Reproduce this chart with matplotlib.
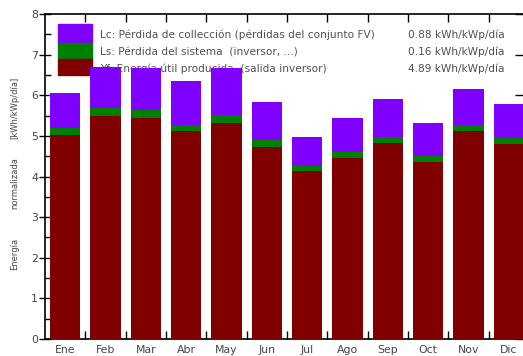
import matplotlib
matplotlib.use("Agg")
import matplotlib.pyplot as plt
from matplotlib.patches import Rectangle
import numpy as np

months = ["Ene", "Feb", "Mar", "Abr", "May", "Jun", "Jul", "Ago", "Sep", "Oct", "Nov", "Dic"]
yf = [5.02, 5.49, 5.44, 5.12, 5.31, 4.72, 4.13, 4.45, 4.82, 4.36, 5.12, 4.80]
ls = [0.17, 0.19, 0.20, 0.15, 0.20, 0.18, 0.13, 0.15, 0.15, 0.14, 0.15, 0.14]
lc = [0.86, 1.01, 1.03, 1.08, 1.16, 0.93, 0.71, 0.84, 0.94, 0.81, 0.88, 0.84]
legend_labels = ["Lc: Pérdida de collección (pérdidas del conjunto FV)",
                 "Ls: Pérdida del sistema  (inversor, ...)",
                 "Yf: Energía útil producida  (salida inversor)"]
legend_values = ["0.88 kWh/kWp/día", "0.16 kWh/kWp/día", "4.89 kWh/kWp/día"]

c_lc = "#8000FF"
c_ls = "#008000"
c_yf = "#800000"

plt.rcParams['font.family'] = ['DejaVu Sans']
fig = plt.figure(figsize=(5.23, 3.56), dpi=100)
ax = fig.add_axes([45/523, 17/356, 484/523, 325/356])

x = np.arange(len(months)) + 0.5
yf_a = np.array(yf); ls_a = np.array(ls); lc_a = np.array(lc)
w = 0.75
ax.bar(x, yf_a, w, color=c_yf, zorder=3)
ax.bar(x, ls_a, w, bottom=yf_a, color=c_ls, zorder=3)
ax.bar(x, lc_a, w, bottom=yf_a + ls_a, color=c_lc, zorder=3)

ax.set_xlim(0, 12)
ax.set_ylim(0, 8)
ax.set_xticks(x)
ax.set_xticklabels(months, fontsize=7.8, color="#444444")
ax.set_xticks(np.arange(1, 12), minor=True)
ax.tick_params(axis='x', which='major', length=0, pad=4)
ax.tick_params(axis='x', which='minor', direction='in', length=6, top=True, bottom=True, width=1)
ax.set_yticks(np.arange(0, 9))
ax.set_yticks(np.arange(0, 8.01, 0.5), minor=True)
ax.tick_params(axis='y', which='major', direction='inout', length=8, left=True, right=False, labelsize=7.8, labelcolor="#444444", pad=1, width=1)
ax.tick_params(axis='y', which='minor', direction='in', length=4, left=True, right=False, width=1)
for s in ax.spines.values():
    s.set_linewidth(1.2)

sec = ax.secondary_yaxis('right')
sec.set_yticks(np.arange(0, 9))
sec.tick_params(axis='y', direction='in', length=10, width=1, labelright=False)
sec.spines['right'].set_linewidth(1.2)
sec.set_zorder(1)

# legend block (behind bars)
colors = [c_lc, c_ls, c_yf]
ybounds = [(339-24)/325, (339-43)/325, (339-59)/325, (339-75)/325]
for i, c in enumerate(colors):
    ax.add_patch(Rectangle((13/484, ybounds[i+1]), 34/484, ybounds[i]-ybounds[i+1],
                           transform=ax.transAxes, color=c, zorder=1))
ty = [(339-35)/325, (339-52)/325, (339-69)/325]
for t, v, yy in zip(legend_labels, legend_values, ty):
    ax.text(55/484, yy, t, transform=ax.transAxes, fontsize=7.6, color="#505050", va='center', ha='left', zorder=1)
    ax.text(460/484, yy, v, transform=ax.transAxes, fontsize=7.6, color="#505050", va='center', ha='right', zorder=1)

# y label pieces
for txt, py in [("Energía", 254), ("normalizada", 183), ("[kWh/kWp/día]", 108)]:
    fig.text(15/523, 1 - py/356, txt, rotation=90, fontsize=6, color="#444444", ha='center', va='center')

fig.savefig("out.png", dpi=100)
